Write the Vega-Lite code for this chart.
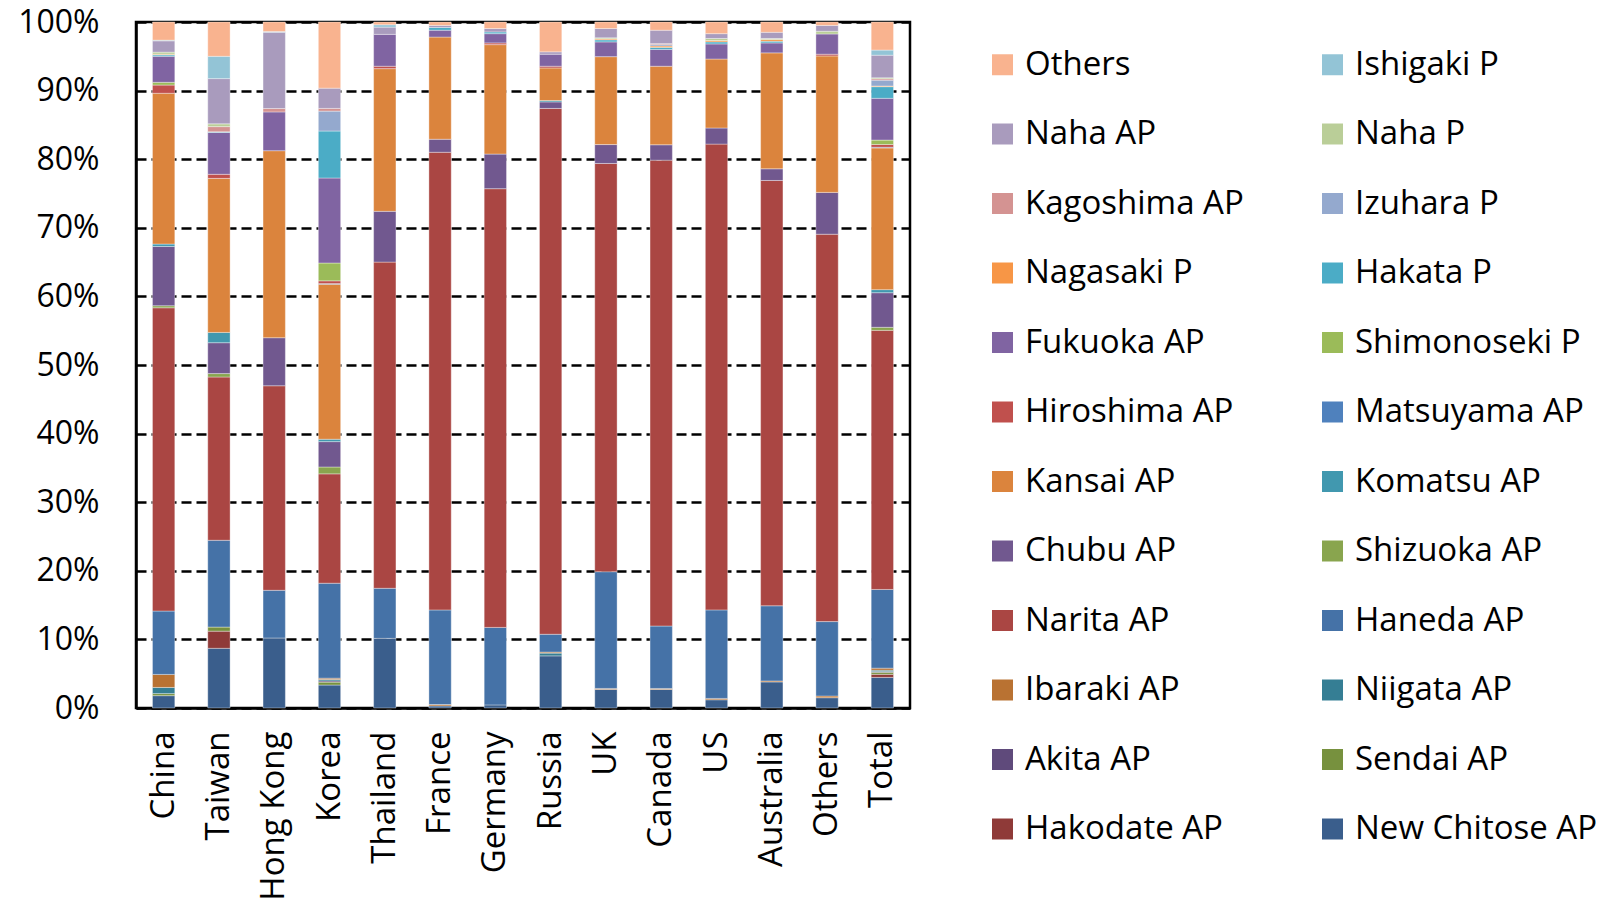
{
  "$schema": "https://vega.github.io/schema/vega-lite/v6.json",
  "autosize": {"type": "none"},
  "width": 774,
  "height": 686,
  "padding": {"left": 136, "top": 22, "right": 694, "bottom": 194},
  "background": "white",
  "config": {
    "view": {"stroke": "black", "strokeWidth": 2.5},
    "font": "Open Sans"
  },
  "datasets": {
    "series": [
      {"s": "New Chitose AP", "k": 1}, {"s": "Hakodate AP", "k": 2}, {"s": "Sendai AP", "k": 3}, {"s": "Akita AP", "k": 4},
      {"s": "Niigata AP", "k": 5}, {"s": "Ibaraki AP", "k": 6}, {"s": "Haneda AP", "k": 7}, {"s": "Narita AP", "k": 8},
      {"s": "Shizuoka AP", "k": 9}, {"s": "Chubu AP", "k": 10}, {"s": "Komatsu AP", "k": 11}, {"s": "Kansai AP", "k": 12},
      {"s": "Matsuyama AP", "k": 13}, {"s": "Hiroshima AP", "k": 14}, {"s": "Shimonoseki P", "k": 15}, {"s": "Fukuoka AP", "k": 16},
      {"s": "Hakata P", "k": 17}, {"s": "Nagasaki P", "k": 18}, {"s": "Izuhara P", "k": 19}, {"s": "Kagoshima AP", "k": 20},
      {"s": "Naha P", "k": 21}, {"s": "Naha AP", "k": 22}, {"s": "Ishigaki P", "k": 23}, {"s": "Others", "k": 24}
    ],
    "shares": [
      {"c": "China", "s": "New Chitose AP", "v": 1.8}, {"c": "China", "s": "Sendai AP", "v": 0.3}, {"c": "China", "s": "Niigata AP", "v": 0.9}, {"c": "China", "s": "Ibaraki AP", "v": 1.9}, {"c": "China", "s": "Haneda AP", "v": 9.25}, {"c": "China", "s": "Narita AP", "v": 44.25}, {"c": "China", "s": "Shizuoka AP", "v": 0.3}, {"c": "China", "s": "Chubu AP", "v": 8.65}, {"c": "China", "s": "Komatsu AP", "v": 0.35}, {"c": "China", "s": "Kansai AP", "v": 22.0}, {"c": "China", "s": "Hiroshima AP", "v": 1.2}, {"c": "China", "s": "Shimonoseki P", "v": 0.4}, {"c": "China", "s": "Fukuoka AP", "v": 3.8}, {"c": "China", "s": "Hakata P", "v": 0.2}, {"c": "China", "s": "Nagasaki P", "v": 0.1}, {"c": "China", "s": "Naha P", "v": 0.3}, {"c": "China", "s": "Naha AP", "v": 1.65}, {"c": "China", "s": "Ishigaki P", "v": 0.1}, {"c": "China", "s": "Others", "v": 2.65},
      {"c": "Taiwan", "s": "New Chitose AP", "v": 8.7}, {"c": "Taiwan", "s": "Hakodate AP", "v": 2.5}, {"c": "Taiwan", "s": "Sendai AP", "v": 0.6}, {"c": "Taiwan", "s": "Haneda AP", "v": 12.65}, {"c": "Taiwan", "s": "Narita AP", "v": 23.8}, {"c": "Taiwan", "s": "Shizuoka AP", "v": 0.5}, {"c": "Taiwan", "s": "Chubu AP", "v": 4.5}, {"c": "Taiwan", "s": "Komatsu AP", "v": 1.5}, {"c": "Taiwan", "s": "Kansai AP", "v": 22.45}, {"c": "Taiwan", "s": "Hiroshima AP", "v": 0.6}, {"c": "Taiwan", "s": "Fukuoka AP", "v": 6.1}, {"c": "Taiwan", "s": "Hakata P", "v": 0.1}, {"c": "Taiwan", "s": "Kagoshima AP", "v": 0.75}, {"c": "Taiwan", "s": "Naha P", "v": 0.4}, {"c": "Taiwan", "s": "Naha AP", "v": 6.6}, {"c": "Taiwan", "s": "Ishigaki P", "v": 3.25}, {"c": "Taiwan", "s": "Others", "v": 5.0},
      {"c": "Hong Kong", "s": "New Chitose AP", "v": 10.2}, {"c": "Hong Kong", "s": "Haneda AP", "v": 6.95}, {"c": "Hong Kong", "s": "Narita AP", "v": 29.8}, {"c": "Hong Kong", "s": "Chubu AP", "v": 7.0}, {"c": "Hong Kong", "s": "Kansai AP", "v": 27.25}, {"c": "Hong Kong", "s": "Fukuoka AP", "v": 5.65}, {"c": "Hong Kong", "s": "Kagoshima AP", "v": 0.5}, {"c": "Hong Kong", "s": "Naha AP", "v": 11.1}, {"c": "Hong Kong", "s": "Ishigaki P", "v": 0.1}, {"c": "Hong Kong", "s": "Others", "v": 1.4},
      {"c": "Korea", "s": "New Chitose AP", "v": 3.35}, {"c": "Korea", "s": "Akita AP", "v": 0.2}, {"c": "Korea", "s": "Sendai AP", "v": 0.4}, {"c": "Korea", "s": "Niigata AP", "v": 0.2}, {"c": "Korea", "s": "Ibaraki AP", "v": 0.2}, {"c": "Korea", "s": "Haneda AP", "v": 13.85}, {"c": "Korea", "s": "Narita AP", "v": 15.95}, {"c": "Korea", "s": "Shizuoka AP", "v": 1.0}, {"c": "Korea", "s": "Chubu AP", "v": 3.7}, {"c": "Korea", "s": "Komatsu AP", "v": 0.35}, {"c": "Korea", "s": "Kansai AP", "v": 22.6}, {"c": "Korea", "s": "Matsuyama AP", "v": 0.1}, {"c": "Korea", "s": "Hiroshima AP", "v": 0.4}, {"c": "Korea", "s": "Shimonoseki P", "v": 2.6}, {"c": "Korea", "s": "Fukuoka AP", "v": 12.4}, {"c": "Korea", "s": "Hakata P", "v": 6.85}, {"c": "Korea", "s": "Izuhara P", "v": 2.9}, {"c": "Korea", "s": "Kagoshima AP", "v": 0.4}, {"c": "Korea", "s": "Naha AP", "v": 2.95}, {"c": "Korea", "s": "Others", "v": 9.65},
      {"c": "Thailand", "s": "New Chitose AP", "v": 10.15}, {"c": "Thailand", "s": "Haneda AP", "v": 7.3}, {"c": "Thailand", "s": "Narita AP", "v": 47.55}, {"c": "Thailand", "s": "Chubu AP", "v": 7.4}, {"c": "Thailand", "s": "Kansai AP", "v": 20.8}, {"c": "Thailand", "s": "Hiroshima AP", "v": 0.35}, {"c": "Thailand", "s": "Fukuoka AP", "v": 4.65}, {"c": "Thailand", "s": "Naha AP", "v": 1.05}, {"c": "Thailand", "s": "Ishigaki P", "v": 0.35}, {"c": "Thailand", "s": "Others", "v": 0.4},
      {"c": "France", "s": "New Chitose AP", "v": 0.3}, {"c": "France", "s": "Ibaraki AP", "v": 0.2}, {"c": "France", "s": "Haneda AP", "v": 13.8}, {"c": "France", "s": "Narita AP", "v": 66.75}, {"c": "France", "s": "Chubu AP", "v": 1.9}, {"c": "France", "s": "Kansai AP", "v": 14.9}, {"c": "France", "s": "Fukuoka AP", "v": 1.0}, {"c": "France", "s": "Hakata P", "v": 0.4}, {"c": "France", "s": "Naha AP", "v": 0.3}, {"c": "France", "s": "Others", "v": 0.5},
      {"c": "Germany", "s": "New Chitose AP", "v": 0.45}, {"c": "Germany", "s": "Haneda AP", "v": 11.3}, {"c": "Germany", "s": "Narita AP", "v": 63.95}, {"c": "Germany", "s": "Chubu AP", "v": 5.05}, {"c": "Germany", "s": "Kansai AP", "v": 15.95}, {"c": "Germany", "s": "Hiroshima AP", "v": 0.25}, {"c": "Germany", "s": "Fukuoka AP", "v": 1.35}, {"c": "Germany", "s": "Hakata P", "v": 0.25}, {"c": "Germany", "s": "Naha AP", "v": 0.5}, {"c": "Germany", "s": "Others", "v": 0.95},
      {"c": "Russia", "s": "New Chitose AP", "v": 7.6}, {"c": "Russia", "s": "Niigata AP", "v": 0.4}, {"c": "Russia", "s": "Ibaraki AP", "v": 0.15}, {"c": "Russia", "s": "Haneda AP", "v": 2.6}, {"c": "Russia", "s": "Narita AP", "v": 76.65}, {"c": "Russia", "s": "Chubu AP", "v": 0.95}, {"c": "Russia", "s": "Komatsu AP", "v": 0.2}, {"c": "Russia", "s": "Kansai AP", "v": 4.75}, {"c": "Russia", "s": "Hiroshima AP", "v": 0.25}, {"c": "Russia", "s": "Fukuoka AP", "v": 1.75}, {"c": "Russia", "s": "Naha AP", "v": 0.35}, {"c": "Russia", "s": "Others", "v": 4.35},
      {"c": "UK", "s": "New Chitose AP", "v": 2.7}, {"c": "UK", "s": "Ibaraki AP", "v": 0.15}, {"c": "UK", "s": "Haneda AP", "v": 17.0}, {"c": "UK", "s": "Narita AP", "v": 59.45}, {"c": "UK", "s": "Chubu AP", "v": 2.75}, {"c": "UK", "s": "Kansai AP", "v": 12.8}, {"c": "UK", "s": "Fukuoka AP", "v": 2.15}, {"c": "UK", "s": "Hakata P", "v": 0.3}, {"c": "UK", "s": "Nagasaki P", "v": 0.15}, {"c": "UK", "s": "Naha P", "v": 0.15}, {"c": "UK", "s": "Naha AP", "v": 1.35}, {"c": "UK", "s": "Others", "v": 0.95},
      {"c": "Canada", "s": "New Chitose AP", "v": 2.7}, {"c": "Canada", "s": "Ibaraki AP", "v": 0.15}, {"c": "Canada", "s": "Haneda AP", "v": 9.1}, {"c": "Canada", "s": "Narita AP", "v": 67.9}, {"c": "Canada", "s": "Chubu AP", "v": 2.25}, {"c": "Canada", "s": "Kansai AP", "v": 11.45}, {"c": "Canada", "s": "Fukuoka AP", "v": 2.45}, {"c": "Canada", "s": "Hakata P", "v": 0.3}, {"c": "Canada", "s": "Nagasaki P", "v": 0.2}, {"c": "Canada", "s": "Izuhara P", "v": 0.2}, {"c": "Canada", "s": "Kagoshima AP", "v": 0.15}, {"c": "Canada", "s": "Naha AP", "v": 1.95}, {"c": "Canada", "s": "Others", "v": 1.2},
      {"c": "US", "s": "New Chitose AP", "v": 1.2}, {"c": "US", "s": "Ibaraki AP", "v": 0.2}, {"c": "US", "s": "Haneda AP", "v": 12.9}, {"c": "US", "s": "Narita AP", "v": 67.9}, {"c": "US", "s": "Chubu AP", "v": 2.35}, {"c": "US", "s": "Kansai AP", "v": 10.05}, {"c": "US", "s": "Fukuoka AP", "v": 2.2}, {"c": "US", "s": "Hakata P", "v": 0.3}, {"c": "US", "s": "Nagasaki P", "v": 0.2}, {"c": "US", "s": "Naha P", "v": 0.3}, {"c": "US", "s": "Naha AP", "v": 0.7}, {"c": "US", "s": "Others", "v": 1.7},
      {"c": "Australia", "s": "New Chitose AP", "v": 3.8}, {"c": "Australia", "s": "Ibaraki AP", "v": 0.15}, {"c": "Australia", "s": "Haneda AP", "v": 10.95}, {"c": "Australia", "s": "Narita AP", "v": 62.0}, {"c": "Australia", "s": "Chubu AP", "v": 1.7}, {"c": "Australia", "s": "Kansai AP", "v": 16.9}, {"c": "Australia", "s": "Fukuoka AP", "v": 1.45}, {"c": "Australia", "s": "Hakata P", "v": 0.25}, {"c": "Australia", "s": "Nagasaki P", "v": 0.25}, {"c": "Australia", "s": "Naha P", "v": 0.15}, {"c": "Australia", "s": "Naha AP", "v": 0.9}, {"c": "Australia", "s": "Others", "v": 1.5},
      {"c": "Others", "s": "New Chitose AP", "v": 1.5}, {"c": "Others", "s": "Ibaraki AP", "v": 0.25}, {"c": "Others", "s": "Haneda AP", "v": 10.85}, {"c": "Others", "s": "Narita AP", "v": 56.5}, {"c": "Others", "s": "Chubu AP", "v": 6.1}, {"c": "Others", "s": "Kansai AP", "v": 19.9}, {"c": "Others", "s": "Hiroshima AP", "v": 0.25}, {"c": "Others", "s": "Fukuoka AP", "v": 2.95}, {"c": "Others", "s": "Naha P", "v": 0.4}, {"c": "Others", "s": "Naha AP", "v": 0.85}, {"c": "Others", "s": "Others", "v": 0.5},
      {"c": "Total", "s": "New Chitose AP", "v": 4.47}, {"c": "Total", "s": "Hakodate AP", "v": 0.45}, {"c": "Total", "s": "Sendai AP", "v": 0.3}, {"c": "Total", "s": "Akita AP", "v": 0.1}, {"c": "Total", "s": "Niigata AP", "v": 0.2}, {"c": "Total", "s": "Ibaraki AP", "v": 0.3}, {"c": "Total", "s": "Haneda AP", "v": 11.5}, {"c": "Total", "s": "Narita AP", "v": 37.85}, {"c": "Total", "s": "Shizuoka AP", "v": 0.45}, {"c": "Total", "s": "Chubu AP", "v": 5.05}, {"c": "Total", "s": "Komatsu AP", "v": 0.45}, {"c": "Total", "s": "Kansai AP", "v": 20.7}, {"c": "Total", "s": "Matsuyama AP", "v": 0.1}, {"c": "Total", "s": "Hiroshima AP", "v": 0.4}, {"c": "Total", "s": "Shimonoseki P", "v": 0.65}, {"c": "Total", "s": "Fukuoka AP", "v": 6.1}, {"c": "Total", "s": "Hakata P", "v": 1.7}, {"c": "Total", "s": "Nagasaki P", "v": 0.1}, {"c": "Total", "s": "Izuhara P", "v": 0.85}, {"c": "Total", "s": "Kagoshima AP", "v": 0.2}, {"c": "Total", "s": "Naha P", "v": 0.15}, {"c": "Total", "s": "Naha AP", "v": 3.3}, {"c": "Total", "s": "Ishigaki P", "v": 0.75}, {"c": "Total", "s": "Others", "v": 4.1}
    ]
  },
  "data": {"name": "shares"},
  "transform": [
    {"lookup": "s", "from": {"data": {"name": "series"}, "key": "s", "fields": ["k"]}}
  ],
  "mark": {"type": "bar", "stroke": "white", "strokeWidth": 0.6, "strokeOpacity": 0.6},
  "encoding": {
    "x": {
      "field": "c", "type": "nominal",
      "sort": ["China", "Taiwan", "Hong Kong", "Korea", "Thailand", "France", "Germany", "Russia", "UK", "Canada", "US", "Australia", "Others", "Total"],
      "scale": {"paddingInner": 0.596, "paddingOuter": 0.298},
      "axis": {"title": null, "labelAngle": -90, "labelAlign": "right", "labelBaseline": "middle", "labelFont": "Open Sans", "labelFontSize": 33, "labelColor": "black", "labelPadding": 23, "ticks": false, "domainColor": "black", "domainWidth": 2.5}
    },
    "y": {
      "field": "v", "type": "quantitative", "stack": "normalize",
      "scale": {"domain": [0, 1], "nice": false},
      "axis": {"title": null, "format": ".0%", "values": [0, 0.1, 0.2, 0.3, 0.4, 0.5, 0.6, 0.7, 0.8, 0.9, 1], "labelFont": "Open Sans", "labelFontSize": 32, "labelColor": "black", "labelPadding": 37, "ticks": false, "domainColor": "black", "domainWidth": 2.5, "grid": true, "gridColor": "black", "gridWidth": 2.5, "gridDash": [10, 5], "gridOpacity": 1}
    },
    "order": {"field": "k", "type": "quantitative", "sort": "ascending"},
    "color": {
      "field": "s", "type": "nominal",
      "scale": {
        "domain": ["Others", "Naha AP", "Kagoshima AP", "Nagasaki P", "Fukuoka AP", "Hiroshima AP", "Kansai AP", "Chubu AP", "Narita AP", "Ibaraki AP", "Akita AP", "Hakodate AP", "Ishigaki P", "Naha P", "Izuhara P", "Hakata P", "Shimonoseki P", "Matsuyama AP", "Komatsu AP", "Shizuoka AP", "Haneda AP", "Niigata AP", "Sendai AP", "New Chitose AP"],
        "range": ["#F9B38F", "#A99BBD", "#D49392", "#F79646", "#8064A2", "#C0504D", "#DB843D", "#71588F", "#AA4643", "#B97232", "#5F4A7B", "#8F3A38", "#93C4D6", "#BACE98", "#94A9CE", "#4BACC6", "#9BBB59", "#4F81BD", "#4198AF", "#89A54E", "#4572A7", "#357E94", "#77913E", "#3A5E8C"]
      },
      "legend": {"title": null, "orient": "none", "legendX": 850, "legendY": 26, "columns": 2, "columnPadding": 72, "rowPadding": 35.5, "symbolType": "square", "symbolSize": 441, "symbolStrokeWidth": 0, "symbolOpacity": 1, "labelFont": "Open Sans", "labelFontSize": 33, "labelColor": "black", "labelOffset": 6, "labelLimit": 500, "padding": 0}
    }
  }
}
